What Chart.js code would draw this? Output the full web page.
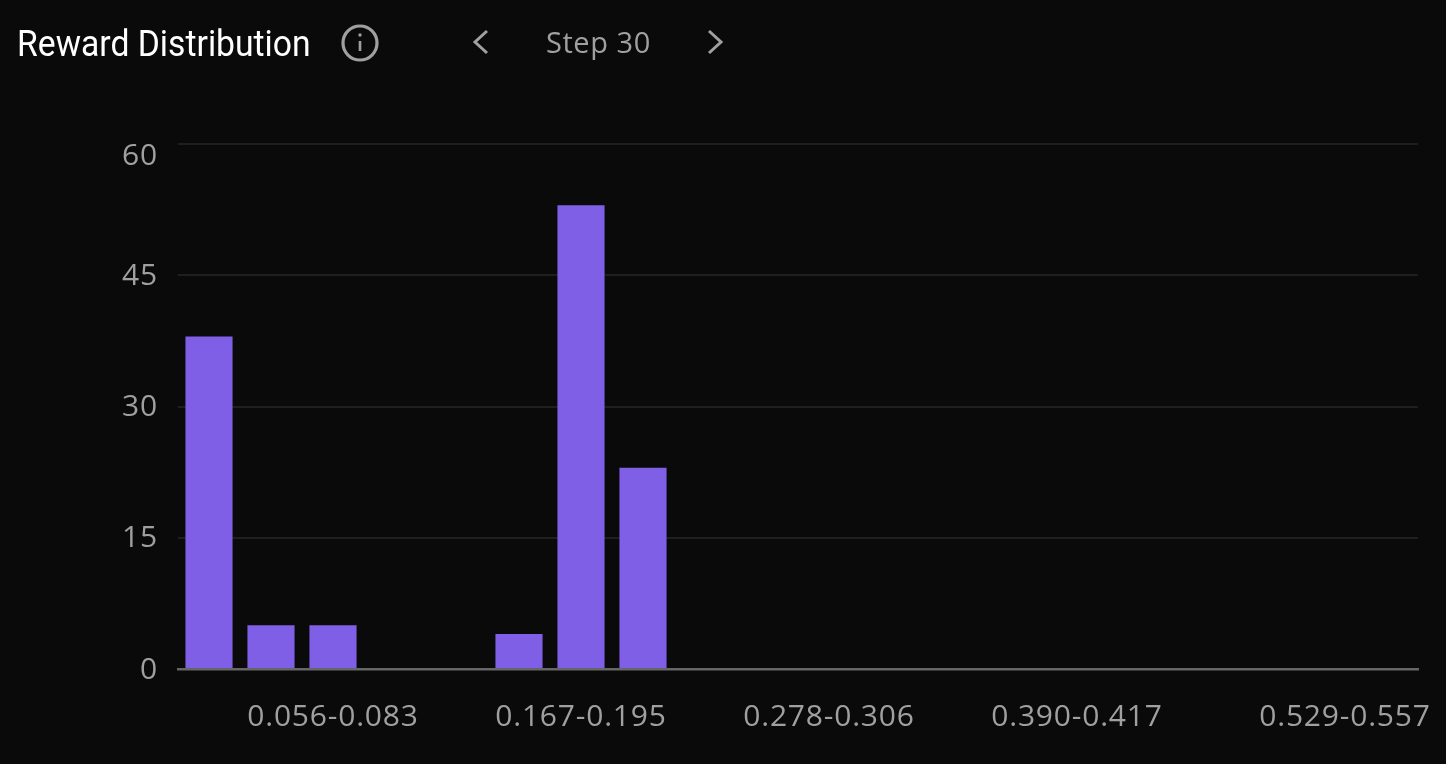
<!DOCTYPE html>
<html>
<head>
<meta charset="utf-8">
<style>
html,body{margin:0;padding:0;width:1446px;height:764px;background:#0a0a0b;overflow:hidden}
#c{position:absolute;left:0;top:0}
.t{position:absolute;white-space:nowrap;line-height:1}
#title{left:17px;top:23px;font:400 36px Roboto,sans-serif;color:#fff;transform:scaleX(.936);transform-origin:left center}
#step{left:546px;top:22px;font:400 29px "Open Sans",sans-serif;color:#a0a0a0;letter-spacing:0.55px}
svg{position:absolute;left:0;top:0}
</style>
<script src="https://cdn.jsdelivr.net/npm/chart.js@4/dist/chart.umd.min.js"></script>
</head>
<body>
<canvas id="c" width="1446" height="764"></canvas>
<svg width="1446" height="100" fill="none" stroke="#a0a0a0" stroke-width="3.2">
  <circle cx="360" cy="43" r="17"/>
  <circle cx="360" cy="35" r="1.7" fill="#a0a0a0" stroke="none"/>
  <path d="M360 41V51" stroke-width="2.6"/>
  <path d="M487 31 L475 42 L487 53" stroke-width="3"/>
  <path d="M709 31 L721 42 L709 53" stroke-width="3"/>
</svg>
<div class="t" id="title">Reward Distribution</div>
<div class="t" id="step">Step 30</div>
<script>
const binLabels = ["0.000-0.028","0.028-0.056","0.056-0.083","0.083-0.111","0.111-0.139","0.139-0.167","0.167-0.195","0.195-0.223","0.223-0.251","0.251-0.278","0.278-0.306","0.306-0.334","0.334-0.362","0.362-0.390","0.390-0.417","0.417-0.445","0.445-0.473","0.473-0.501","0.501-0.529","0.529-0.557"];
const counts = [38,5,5,0,0,4,53,23,0,0,0,0,0,0,0,0,0,0,0,0];
const shownBins = [2,6,10,14,19];
const yTicks = [0,15,30,45,60];

const nudgeEdgeLabels = {
  id:'nudgeEdgeLabels',
  afterUpdate(chart){
    const xi = chart.scales.x.getLabelItems();
    const last = xi[xi.length-1];
    if(last) last.options.translation[0] -= 42;
    const yi = chart.scales.y.getLabelItems();
    yi.forEach(it=>{ it.options.translation[1] += 1; });
    const top = yi[yi.length-1];
    if(top) top.options.translation[1] += 11;
  },
  beforeDraw(chart){ chart.ctx.letterSpacing='0.8px'; }
};

new Chart(document.getElementById('c'),{
  type:'bar',
  data:{labels:binLabels,datasets:[{data:counts,backgroundColor:'#7f5fe6',borderWidth:0,barPercentage:0.76,categoryPercentage:1}]},
  plugins:[nudgeEdgeLabels],
  options:{
    responsive:false,devicePixelRatio:1,animation:false,
    layout:{padding:{left:0,right:28,top:144,bottom:0}},
    plugins:{legend:{display:false},tooltip:{enabled:false},title:{display:false}},
    scales:{
      x:{
        afterFit(s){s.height=95;s.paddingLeft=0;s.paddingRight=0;},
        grid:{display:false},
        border:{display:true,color:'#666666',width:2.5},
        afterTickToLabelConversion(s){ s.ticks=s.ticks.filter(t=>shownBins.includes(t.value)); },
        ticks:{autoSkip:false,maxRotation:0,minRotation:0,color:'#a0a0a0',padding:22,font:{family:'"Open Sans"',size:30}}
      },
      y:{
        min:0,max:60,
        afterFit(s){s.width=178;s.paddingTop=0;s.paddingBottom=0;},
        afterBuildTicks(s){s.ticks=yTicks.map(v=>({value:v}))},
        border:{display:false},
        grid:{color:'#1f1f20',lineWidth:2,drawTicks:false},
        ticks:{color:'#a0a0a0',padding:20,font:{family:'"Open Sans"',size:30}}
      }
    }
  }
});
</script>
</body>
</html>
